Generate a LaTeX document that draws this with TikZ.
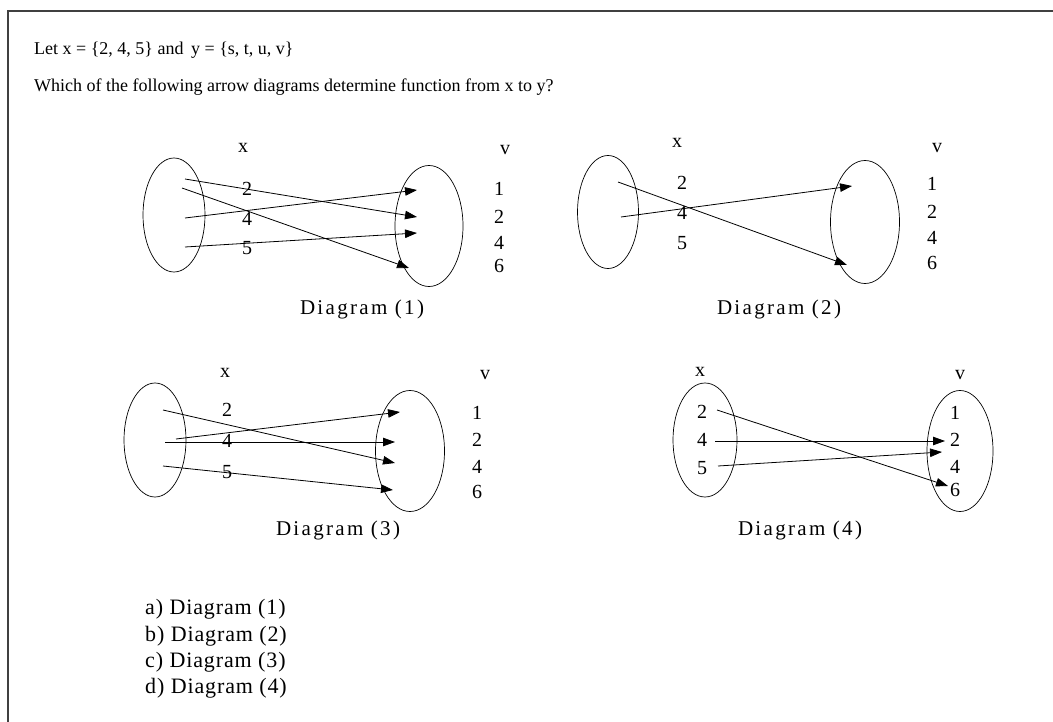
\documentclass[tikz,border=0pt]{standalone}
\usepackage{fontspec}
\setmainfont{Liberation Serif}
\newfontfamily\spacedB[LetterSpace=11]{Liberation Serif}
\newfontfamily\spacedC[LetterSpace=4]{Liberation Serif}
\usetikzlibrary{shapes.geometric,arrows.meta}
\begin{document}
\begin{tikzpicture}[x=1pt,y=-1pt,
  setoval/.style={draw,ellipse,inner sep=0pt,line width=0.7pt},
  map/.style={line width=0.8pt,-{Triangle[length=12pt,width=8.5pt]}},
  lbl/.style={inner sep=0pt,font=\fontsize{20}{22}\selectfont},
  txt/.style={inner sep=0pt,anchor=base west,font=\fontsize{18}{21}\selectfont},
  anstxt/.style={inner sep=0pt,anchor=base west,font=\spacedC\fontsize{22}{25}\selectfont},
  diagcap/.style={inner sep=0pt,font=\spacedB\fontsize{21}{24}\selectfont},
  frameline/.style={line width=2.2pt,draw=black!75}]
\useasboundingbox (0,0) rectangle (1053,722);
\coordinate (fa) at (1053,11);
\coordinate (fb) at (8,11);
\coordinate (fc) at (8,722);
\draw[frameline] (fa) -- (fb) -- (fc);
\node[txt] (t1) at (34,55) {Let x = \{2, 4, 5\} and\, y = \{s, t, u, v\}};
\node[txt] (t2) at (34,92) {Which of the following arrow diagrams determine function from x to y?};
% ---------- Diagram 1
\node[setoval,minimum width=62,minimum height=114] (L1) at (174,215) {};
\node[setoval,minimum width=68,minimum height=121] (R1) at (429,226) {};
\node[lbl] (x1) at (243,148) {x};
\node[lbl] (v1) at (505,150) {v};
\node[lbl] (a12) at (247,189) {2};
\node[lbl] (a14) at (247,219) {4};
\node[lbl] (a15) at (247,248) {5};
\node[lbl] (b11) at (499,189) {1};
\node[lbl] (b12) at (499,217) {2};
\node[lbl] (b14) at (499,243) {4};
\node[lbl] (b16) at (499,266) {6};
\coordinate (s12a) at (185,179);
\coordinate (s12b) at (182,188);
\coordinate (s14) at (185,218);
\coordinate (s15) at (185,247);
\coordinate (e11) at (417,190);
\coordinate (e12) at (417,217);
\coordinate (e14) at (417,233);
\coordinate (e16) at (409,268);
\draw[map] (s12a) -- (e12);
\draw[map] (s12b) -- (e16);
\draw[map] (s14) -- (e11);
\draw[map] (s15) -- (e14);
\node[diagcap] (c1) at (362,309) {Diagram (1)};
% ---------- Diagram 2
\node[setoval,minimum width=61,minimum height=113] (L2) at (608,212) {};
\node[setoval,minimum width=69,minimum height=123] (R2) at (865,222) {};
\node[lbl] (x2) at (677,143) {x};
\node[lbl] (v2) at (937,148) {v};
\node[lbl] (a22) at (682,183) {2};
\node[lbl] (a24) at (682,213) {4};
\node[lbl] (a25) at (682,243) {5};
\node[lbl] (b21) at (932,184) {1};
\node[lbl] (b22) at (932,212) {2};
\node[lbl] (b24) at (932,238) {4};
\node[lbl] (b26) at (932,263) {6};
\coordinate (s22) at (618,182);
\coordinate (s24) at (621,217);
\coordinate (e21) at (852,186);
\coordinate (e26) at (847,265);
\draw[map] (s22) -- (e26);
\draw[map] (s24) -- (e21);
\node[diagcap] (c2) at (779,309) {Diagram (2)};
% ---------- Diagram 3
\node[setoval,minimum width=62,minimum height=114] (L3) at (155,440) {};
\node[setoval,minimum width=69,minimum height=121] (R3) at (410,451) {};
\node[lbl] (x3) at (225,373) {x};
\node[lbl] (v3) at (485,375) {v};
\node[lbl] (a32) at (227,410) {2};
\node[lbl] (a34) at (227,441) {4};
\node[lbl] (a35) at (227,472) {5};
\node[lbl] (b31) at (477,413) {1};
\node[lbl] (b32) at (477,440) {2};
\node[lbl] (b34) at (477,467) {4};
\node[lbl] (b36) at (477,492) {6};
\coordinate (s32) at (163,410);
\coordinate (s34a) at (176,439);
\coordinate (s34b) at (165,442);
\coordinate (s35) at (163,466);
\coordinate (e31) at (400,412);
\coordinate (e32) at (395,442);
\coordinate (e34) at (395,463);
\coordinate (e36) at (393,490);
\draw[map] (s32) -- (e34);
\draw[map] (s34a) -- (e31);
\draw[map] (s34b) -- (e32);
\draw[map] (s35) -- (e36);
\node[diagcap] (c3) at (338,530) {Diagram (3)};
% ---------- Diagram 4
\node[setoval,minimum width=64,minimum height=114] (L4) at (705,440) {};
\node[setoval,minimum width=66,minimum height=121] (R4) at (960,451) {};
\node[lbl] (x4) at (700,372) {x};
\node[lbl] (v4) at (960,375) {v};
\node[lbl] (a42) at (702,412) {2};
\node[lbl] (a44) at (702,440) {4};
\node[lbl] (a45) at (702,468) {5};
\node[lbl] (b41) at (955,413) {1};
\node[lbl] (b42) at (955,440) {2};
\node[lbl] (b44) at (955,467) {4};
\node[lbl] (b46) at (955,490) {6};
\coordinate (s42) at (717,410);
\coordinate (s44) at (715,441);
\coordinate (s45) at (718,466);
\coordinate (e46) at (948,486);
\coordinate (e42) at (945,441);
\coordinate (e42b) at (942,452);
\draw[map] (s42) -- (e46);
\draw[map] (s44) -- (e42);
\draw[map] (s45) -- (e42b);
\node[diagcap] (c4) at (800,530) {Diagram (4)};
% ---------- answers
\node[anstxt] (ansa) at (145,614) {a) Diagram (1)};
\node[anstxt] (ansb) at (145,641) {b) Diagram (2)};
\node[anstxt] (ansc) at (145,667) {c) Diagram (3)};
\node[anstxt] (ansd) at (145,693) {d) Diagram (4)};
\end{tikzpicture}
\end{document}
